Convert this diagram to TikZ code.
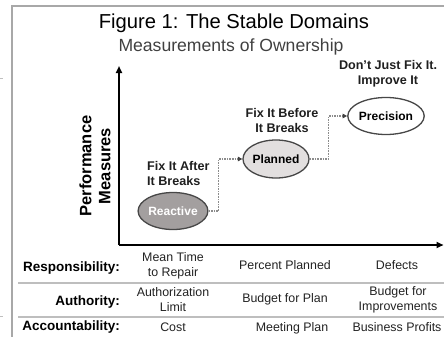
\documentclass[tikz,border=0pt]{standalone}
\usepackage{fontspec}
\setmainfont{Liberation Sans}
\usetikzlibrary{arrows.meta,shapes.geometric}

\definecolor{framegrey}{HTML}{A8A8A8}
\definecolor{rulegrey}{HTML}{BEBEBE}
\definecolor{inkgrey}{HTML}{222222}
\definecolor{reactfill}{HTML}{A39F9F}
\definecolor{planfill}{HTML}{E2DFDF}

\begin{document}
\begin{tikzpicture}[x=1pt,y=-1pt,
  frameline/.style={draw=framegrey, line width=1.5pt},
  axisline/.style={draw=black, line width=1.8pt, -{Triangle[length=7pt,width=6pt]}},
  state/.style={ellipse, draw=black!72, line width=1.3pt, minimum width=66pt,
    minimum height=37pt, inner sep=0pt, font=\fontsize{12}{14}\selectfont\bfseries},
  flow/.style={draw=black!45, line width=1.2pt, dash pattern=on 1.6pt off 1pt,
    -{Triangle[length=4.5pt,width=4.5pt,color=black!75]}},
  phase/.style={font=\fontsize{12.6}{15}\selectfont\bfseries, inner sep=0pt, text=black!88},
  rowlabel/.style={anchor=east, inner sep=0pt, font=\fontsize{13.5}{16}\selectfont\bfseries},
  cell/.style={align=center, inner sep=0pt, text=inkgrey, font=\fontsize{12.4}{14.8}\selectfont},
  separator/.style={draw=rulegrey, line width=1.2pt}
]
\useasboundingbox (0,0) rectangle (444,337);

% outer frame (only the top and left edges fall inside the page)
\draw[frameline] (444,6) -- (12,6) -- (12,337);
\draw[draw=black!25, line width=0.8pt] (0,78) -- (3,78);
\draw[draw=black!25, line width=0.8pt] (0,316) -- (3,316);

% headings
\node[inner sep=0pt, font=\fontsize{20.2}{24}\selectfont] (title) at (234,23) {Figure 1: The Stable Domains};
\node[inner sep=0pt, text=black!75, font=\fontsize{17.6}{21}\selectfont] (subtitle) at (231,47) {Measurements of Ownership};

% axes
\coordinate (origin) at (119,245);
\coordinate (ytop) at (119,66);
\coordinate (xend) at (443.5,245);
\draw[axisline] (origin) -- (ytop);
\draw[axisline] (origin) -- (xend);
\node[rotate=90, align=center, inner sep=0pt,
  font=\fontsize{16.5}{19}\selectfont\bfseries] (ylabel) at (95,166) {Performance\\Measures};

% maturity stages
\node[state, fill=reactfill, text=white] (reactive) at (173,211) {Reactive};
\node[state, fill=planfill, minimum width=65pt, minimum height=38pt] (planned) at (276,159) {Planned};
\node[state, fill=white] (precision) at (386,116) {Precision};

\node[phase, align=left, anchor=west] (fixafter) at (147,173) {Fix It After\\It Breaks};
\node[phase, align=center] (fixbefore) at (282,120.5) {Fix It Before\\It Breaks};
\node[phase, align=center] (improve) at (388,73.5) {Don't Just Fix It.\\Improve It};

\draw[flow] (reactive.east) -- ++(10,0) |- (planned.west);
\draw[flow] (planned.east) -- ++(19,0) |- (precision.west);

% measurement table
\draw[separator] (18,283) -- (444,283);
\draw[separator] (18,317) -- (444,317);

\node[rowlabel] (resp) at (120,268) {Responsibility:};
\node[rowlabel] (auth) at (120,302) {Authority:};
\node[rowlabel] (acct) at (120,327) {Accountability:};

\node[cell] (r1c1) at (173,265.5) {Mean Time\\to Repair};
\node[cell] (r1c2) at (285,265) {Percent Planned};
\node[cell] (r1c3) at (397,265) {Defects};

\node[cell] (r2c1) at (173,299.5) {Authorization\\Limit};
\node[cell] (r2c2) at (285,299) {Budget for Plan};
\node[cell] (r2c3) at (398,299.5) {Budget for\\Improvements};

\node[cell] (r3c1) at (173,327) {Cost};
\node[cell] (r3c2) at (292,328) {Meeting Plan};
\node[cell] (r3c3) at (397,327) {Business Profits};
\end{tikzpicture}
\end{document}
